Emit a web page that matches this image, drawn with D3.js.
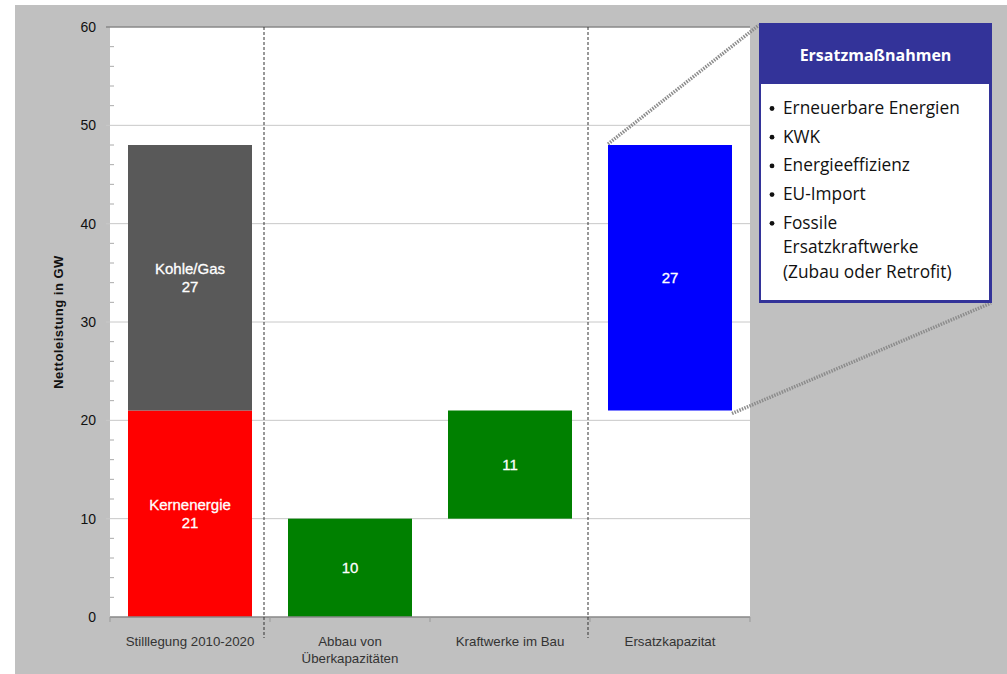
<!DOCTYPE html>
<html><head><meta charset="utf-8">
<script src="https://cdn.jsdelivr.net/npm/d3@7"></script>
<style>html,body{margin:0;padding:0;background:#fff;}svg{display:block;}</style>
</head><body>
<svg id="c" width="1007" height="674"></svg>
<script>
const categories = ["Stilllegung 2010-2020", "Abbau von\nÜberkapazitäten", "Kraftwerke im Bau", "Ersatzkapazitat"];
const segStart = [0, 21, 0, 10, 21];
const segEnd   = [21, 48, 10, 21, 48];
const segCat   = [0, 0, 1, 2, 3];
const segLabel = ["Kernenergie\n21", "Kohle/Gas\n27", "10", "11", "27"];
const segColor = ["#ff0000", "#595959", "#008000", "#008000", "#0000ff"];
const yTicks = [0, 10, 20, 30, 40, 50, 60];
const boxTitle = "Ersatzmaßnahmen";
const boxItems = [["Erneuerbare Energien"], ["KWK"], ["Energieeffizienz"], ["EU-Import"], ["Fossile", "Ersatzkraftwerke", "(Zubau oder Retrofit)"]];

const svg = d3.select("#c");
svg.append("rect").attr("x", 15).attr("y", 5).attr("width", 992).attr("height", 669).attr("fill", "#c0c0c0");

const L = 110, R = 750, T = 27, B = 617;
const x = d3.scaleBand().domain(d3.range(categories.length)).range([L, R]).paddingInner(0.225).paddingOuter(0.1125);
const y = d3.scaleLinear().domain([0, 60]).range([B, T]);

svg.append("rect").attr("x", L).attr("y", T).attr("width", R - L).attr("height", B - T).attr("fill", "#fff");

// gridlines
svg.append("g").selectAll("line").data(yTicks.filter(d => d > 0 && d < 60)).join("line")
  .attr("x1", L - 4).attr("x2", R).attr("y1", d => y(d)).attr("y2", d => y(d))
  .attr("stroke", "#c8c8c8").attr("stroke-width", 1);
svg.append("line").attr("x1", L - 4).attr("x2", R).attr("y1", T).attr("y2", T).attr("stroke", "#888").attr("stroke-width", 1.5);

// y axis
const yAxis = d3.axisLeft(y).tickValues(yTicks).tickSize(0).tickPadding(14);
const gy = svg.append("g").attr("transform", `translate(${L},0)`).call(yAxis);
gy.select(".domain").remove();
gy.selectAll("text").attr("font-family", "Liberation Sans, Arial, sans-serif").attr("font-size", 14).attr("fill", "#111");
// minor ticks
svg.append("g").selectAll("line").data(d3.range(2, 60, 2).filter(d => d % 10 !== 0)).join("line")
  .attr("x1", L).attr("x2", L + 4).attr("y1", d => y(d)).attr("y2", d => y(d)).attr("stroke", "#aaa");

svg.append("text").attr("transform", `translate(63,${(T + B) / 2}) rotate(-90)`)
  .attr("text-anchor", "middle").attr("font-family", "Liberation Sans, Arial, sans-serif")
  .attr("font-size", 13).attr("letter-spacing", 0.5).attr("font-weight", "bold").attr("fill", "#111").text("Nettoleistung in GW");

// bars
const segs = segStart.map((s, i) => ({ s, e: segEnd[i], c: segCat[i], label: segLabel[i], color: segColor[i] }));
svg.append("g").selectAll("rect").data(segs).join("rect")
  .attr("x", d => x(d.c)).attr("width", x.bandwidth())
  .attr("y", d => y(d.e)).attr("height", d => y(d.s) - y(d.e))
  .attr("fill", d => d.color);

const lab = svg.append("g").selectAll("text").data(segs).join("text")
  .attr("text-anchor", "middle").attr("font-family", "Liberation Sans, Arial, sans-serif")
  .attr("font-size", 15).attr("fill", "#fff").attr("stroke", "#fff").attr("stroke-width", 0.3)
  .attr("transform", d => `translate(${x(d.c) + x.bandwidth() / 2},${y((d.s + d.e) / 2)})`);
lab.each(function (d) {
  const lines = d.label.split("\n");
  const t = d3.select(this);
  lines.forEach((ln, i) => {
    t.append("tspan").attr("x", 0).attr("y", (i - (lines.length - 1) / 2) * 18 + 5).text(ln);
  });
});

// bottom axis
svg.append("line").attr("x1", L).attr("x2", R).attr("y1", B).attr("y2", B).attr("stroke", "#888").attr("stroke-width", 1.5);
const bounds = d3.range(categories.length + 1).map(i => L + i * (R - L) / categories.length);
svg.append("g").selectAll("line").data(bounds).join("line")
  .attr("x1", d => d).attr("x2", d => d).attr("y1", B).attr("y2", B + 5).attr("stroke", "#999");

const cl = svg.append("g").selectAll("text").data(categories).join("text")
  .attr("text-anchor", "middle").attr("font-family", "Liberation Sans, Arial, sans-serif")
  .attr("font-size", 13.3).attr("fill", "#333")
  .attr("transform", (d, i) => `translate(${x(i) + x.bandwidth() / 2},${B + 29})`);
cl.each(function (d) {
  const t = d3.select(this);
  d.split("\n").forEach((ln, i) => t.append("tspan").attr("x", 0).attr("y", i * 17).text(ln));
});

// dashed separators
[264, 588].forEach(px => {
  svg.append("line").attr("x1", px).attr("x2", px).attr("y1", T).attr("y2", B + 21)
    .attr("stroke", "#333").attr("stroke-width", 1).attr("stroke-dasharray", "3,2");
});

// connector lines
const bx = x(3), bw = x.bandwidth();
const conn = [[bx, y(48) - 1, 759, 25], [bx + bw, y(21) + 3, 991, 303]];
conn.forEach(c => {
  svg.append("line").attr("x1", c[0]).attr("y1", c[1]).attr("x2", c[2]).attr("y2", c[3])
    .attr("stroke", "#8c8c8c").attr("stroke-width", 3.5).attr("stroke-dasharray", "1.5,1.2");
});

// callout box
const bX = 759, bY = 23, bW = 233, bH = 280;
svg.append("rect").attr("x", bX).attr("y", bY).attr("width", bW).attr("height", bH).attr("fill", "#333399");
svg.append("rect").attr("x", bX + 2).attr("y", 84).attr("width", bW - 5).attr("height", bH - 64).attr("fill", "#fff");
svg.append("text").attr("x", bX + bW / 2).attr("y", 61).attr("text-anchor", "middle")
  .attr("font-family", "Open Sans, Noto Sans, sans-serif").attr("font-weight", "bold")
  .attr("font-size", 16).attr("fill", "#fff").text(boxTitle);
let ly = 114;
boxItems.forEach(item => {
  svg.append("circle").attr("cx", 772).attr("cy", ly - 5.5).attr("r", 2.4).attr("fill", "#111");
  item.forEach((ln, j) => {
    svg.append("text").attr("x", 783).attr("y", ly).attr("font-family", "Open Sans, Noto Sans, sans-serif")
      .attr("font-size", 17.3).attr("fill", "#111").text(ln);
    ly += j < item.length - 1 ? 24.5 : 28.7;
  });
});
</script>
</body></html>
